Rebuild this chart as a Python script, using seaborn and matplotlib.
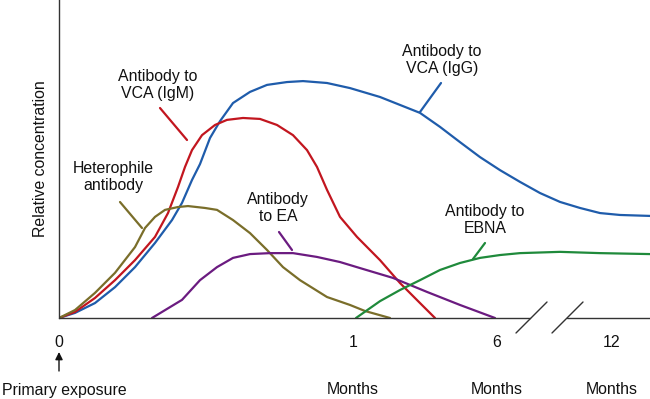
import matplotlib
matplotlib.use("Agg")
import matplotlib.pyplot as plt
import seaborn as sns
import pandas as pd

# ---- data (x: time position along axis, y: relative concentration, 0-100) ----
igg_x = [0, 16, 36, 56, 76, 96, 113, 123, 133, 141, 151, 161, 174, 191, 208, 228, 244, 268, 291,
         321, 341, 361, 381, 401, 421, 441, 461, 481, 501, 521, 541, 561, 591]
igg_y = [0, 1.6, 4.7, 9.7, 16.0, 23.6, 30.8, 36.2, 43.4, 48.4, 56.6, 61.9, 67.6, 71.1, 73.3, 74.2, 74.5, 73.9, 72.3,
         69.5, 67.0, 64.5, 60.1, 55.3, 50.6, 46.5, 42.8, 39.3, 36.5, 34.6, 33.0, 32.4, 32.1]

igm_x = [0, 16, 36, 56, 76, 96, 109, 119, 126, 133, 143, 156, 168, 184, 201, 218, 234, 248, 258,
         268, 281, 298, 321, 341, 361, 376]
igm_y = [0, 1.9, 6.3, 11.9, 18.2, 25.5, 33.0, 41.2, 47.5, 52.8, 57.5, 60.7, 62.3, 62.9, 62.6, 60.7, 57.5, 52.8, 47.5,
         40.3, 31.8, 25.5, 18.2, 11.0, 4.7, 0]

het_x = [0, 16, 36, 56, 76, 86, 96, 106, 119, 129, 146, 158, 174, 191, 208, 224, 241, 268, 291, 306, 331]
het_y = [0, 2.5, 7.9, 14.2, 22.3, 28.3, 31.8, 34.0, 34.9, 35.2, 34.6, 34.0, 30.8, 26.7, 21.4, 16.0, 11.9, 6.6, 4.1, 2.2, 0]

ea_x = [93, 123, 141, 158, 174, 191, 211, 234, 258, 281, 301, 334, 368, 401, 436]
ea_y = [0, 5.7, 11.9, 16.0, 18.9, 20.1, 20.4, 20.4, 19.2, 17.6, 15.7, 12.6, 8.2, 4.1, 0]

ebna_x = [297, 321, 341, 361, 381, 401, 421, 441, 461, 501, 541, 591]
ebna_y = [0, 5.3, 8.8, 11.9, 15.1, 17.3, 18.9, 19.8, 20.4, 20.8, 20.4, 20.1]

tick_pos = [0, 294, 438, 553]
tick_labels = ["0", "1", "6", "12"]
month_labels = ["Months", "Months", "Months"]

names = ["VCA IgG", "VCA IgM", "Heterophile", "EA", "EBNA"]
colors = {"VCA IgG": "#1f5cab", "VCA IgM": "#c2161f", "Heterophile": "#7a6e2a",
          "EA": "#6b1b80", "EBNA": "#1f8a3b"}

frames = []
for n, xs, ys in zip(names, [igg_x, igm_x, het_x, ea_x, ebna_x], [igg_y, igm_y, het_y, ea_y, ebna_y]):
    frames.append(pd.DataFrame({"x": xs, "y": ys, "curve": n}))
df = pd.concat(frames, ignore_index=True)

sns.set_theme(style="white")
plt.rcParams["font.family"] = ["Liberation Sans", "DejaVu Sans"]
FS = 11.4

W, H = 650, 399
fig = plt.figure(figsize=(6.5, 3.99), dpi=100)
ax = fig.add_axes([59 / W, (H - 318) / H, 591 / W, 318 / H])

sns.lineplot(data=df, x="x", y="y", hue="curve", units="curve", estimator=None, sort=False,
             palette=colors, linewidth=1.6, legend=False, ax=ax)
for line in ax.lines:
    line.set_solid_joinstyle("round")
    line.set_solid_capstyle("round")

ax.set_xlim(0, 591)
ax.set_ylim(0, 100)
ax.set_xlabel("")
ax.set_ylabel("Relative concentration", fontsize=FS, color="#111111", labelpad=8)
ax.set_yticks([])
ax.set_xticks(tick_pos)
ax.set_xticklabels(tick_labels, fontsize=FS, color="#111111")
ax.tick_params(axis="x", length=0, pad=12)

for s in ["top", "right", "bottom"]:
    ax.spines[s].set_visible(False)
ax.spines["left"].set_color("#333333")
ax.spines["left"].set_linewidth(1.0)

# broken x-axis line
def px(xp, yp):
    return xp - 59, (318 - yp) / 3.18

axis_col = "#333333"
ax.plot([0, 530 - 59], [0, 0], color=axis_col, lw=1.0, clip_on=False)
ax.plot([567 - 59, 591], [0, 0], color=axis_col, lw=1.0, clip_on=False)
for (x0, y0, x1, y1) in [(516, 333, 547, 302), (552, 333, 583, 302)]:
    a, b = px(x0, y0)
    c, d = px(x1, y1)
    ax.plot([a, c], [b, d], color=axis_col, lw=1.0, clip_on=False)

# curve labels with pointer lines
labels = [
    ("Antibody to\nVCA (IgG)", 442, 60, (441, 83, 420, 112), "#1f5cab"),
    ("Antibody to\nVCA (IgM)", 158, 85, (160, 108, 187, 140), "#c2161f"),
    ("Heterophile\nantibody", 113, 177, (120, 202, 142, 228), "#7a6e2a"),
    ("Antibody\nto EA", 278, 208, (279, 232, 292, 250), "#6b1b80"),
    ("Antibody to\nEBNA", 485, 220, (485, 243, 473, 259), "#1f8a3b"),
]
for txt, tx, ty, (x0, y0, x1, y1), col in labels:
    a, b = px(tx, ty)
    ax.text(a, b, txt, ha="center", va="center", fontsize=FS, color="#111111",
            linespacing=1.15)
    a, b = px(x0, y0)
    c, d = px(x1, y1)
    ax.plot([a, c], [b, d], color=col, lw=1.6)

# bottom annotations
for xp, m in zip([353, 497, 612], month_labels):
    fig.text(xp / W, 1 - 390 / H, m, ha="center", va="center", fontsize=FS, color="#111111")
fig.text(2 / W, 1 - 390 / H, "Primary exposure", ha="left", va="center", fontsize=FS, color="#111111")
ax.annotate("", xy=(59, H - 352), xycoords="figure pixels", xytext=(59, H - 371),
            textcoords="figure pixels",
            arrowprops=dict(arrowstyle="-|>", color="#111111", lw=1.0, mutation_scale=11,
                            shrinkA=0, shrinkB=0))

fig.savefig("out.png", dpi=100)
